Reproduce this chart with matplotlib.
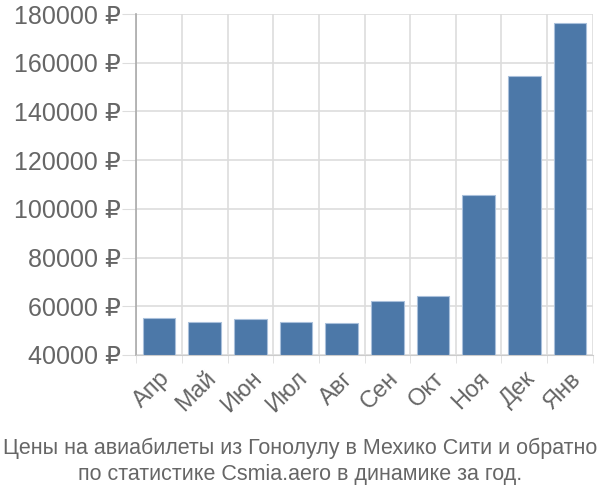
import numpy as np
import matplotlib.pyplot as plt

plt.rcParams['font.family'] = ['Liberation Sans', 'DejaVu Sans']

months = ['Апр', 'Май', 'Июн', 'Июл', 'Авг', 'Сен', 'Окт', 'Ноя', 'Дек', 'Янв']
prices = [55000, 53500, 54900, 53400, 53100, 62300, 64200, 105700, 154500, 176100]
yticks = [40000, 60000, 80000, 100000, 120000, 140000, 160000, 180000]

text_col = '#666666'

fig = plt.figure(figsize=(6, 5), dpi=100)
ax = fig.add_axes([0.227, 0.29, 0.761, 0.682])

x = np.arange(len(months))
ax.bar(x, np.array(prices) - 40000, bottom=40000, width=0.72,
       color='#4c78a8', edgecolor='#a9c0db', linewidth=0.8, zorder=3)

ax.set_xlim(-0.5, len(months) - 0.5)
ax.set_ylim(40000, 180000)
ax.set_yticks(yticks)
ax.set_yticklabels(['%d ₽' % v for v in yticks])
ax.set_xticks(x)
ax.set_xticklabels(months, rotation=45, ha='right', rotation_mode='anchor')
ax.set_xticks(np.arange(len(months) + 1) - 0.5, minor=True)

ax.grid(True, axis='y', color='#dddddd', linewidth=1.2, zorder=0)
ax.grid(True, axis='x', which='minor', color='#dddddd', linewidth=1.2, zorder=0)
ax.tick_params(axis='x', which='major', length=0, pad=9, labelsize=17, labelcolor=text_col)
ax.tick_params(axis='x', which='minor', length=6, color='#dddddd')
ax.tick_params(axis='y', length=10, color='#dddddd', labelsize=18, labelcolor=text_col, pad=1)

for s in ['top', 'right']:
    ax.spines[s].set_visible(False)
ax.spines['left'].set_color('#aaaaaa')
ax.spines['bottom'].set_color('#cccccc')
ax.spines['left'].set_linewidth(1.2)

fig.text(0.5, 0.078, 'Цены на авиабилеты из Гонолулу в Мехико Сити и обратно\nпо статистике Csmia.aero в динамике за год.',
         ha='center', va='center', fontsize=15.5, color=text_col, linespacing=1.32)

fig.savefig('out.png')
